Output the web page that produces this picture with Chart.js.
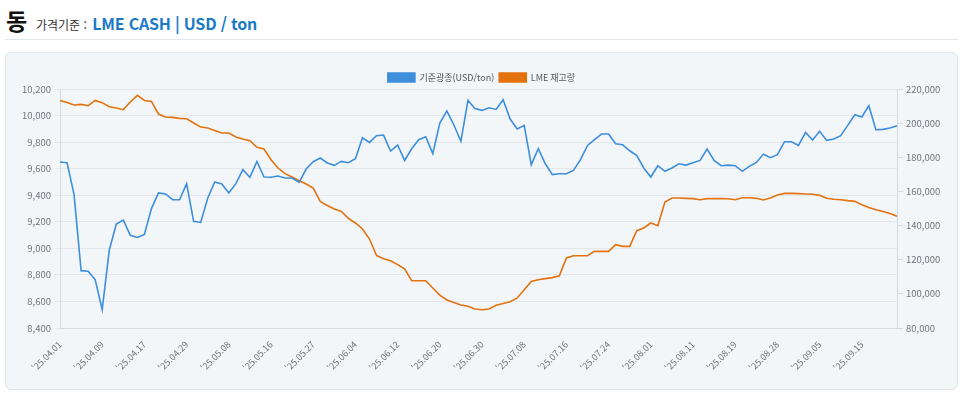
<!DOCTYPE html>
<html lang="ko">
<head>
  <meta charset="UTF-8" />
  <title>동 LME CASH</title>
  <script src="https://cdn.jsdelivr.net/npm/chart.js"></script>
  <style>
    body {
      margin: 0;
      background: #fff;
      font-family: 'Noto Sans CJK KR', 'Noto Sans', sans-serif;
      width: 960px;
      height: 393px;
      overflow: hidden;
      position: relative;
    }
    .head {
      position: absolute;
      left: 5px;
      top: 0;
      width: 953px;
      height: 39px;
      border-bottom: 1px solid #e2e5e9;
    }
    .head .metal {
      position: absolute;
      left: 1px;
      top: 3px;
      font-size: 23px;
      font-weight: bold;
      color: #111;
    }
    .head .basis {
      position: absolute;
      left: 31px;
      top: 11px;
      font-size: 12px;
      color: #333;
    }
    .head .basis b {
      color: #1a7ac8;
      font-size: 16px;
      margin-left: 2px;
      letter-spacing: -0.2px;
    }
    .box {
      position: absolute;
      left: 5px;
      top: 52px;
      width: 951px;
      height: 336px;
      border: 1px solid #dfe4ea;
      border-radius: 6px;
      background: #f3f6f9;
    }
  </style>
</head>
<body>

  <div class="head">
    <span class="metal">동</span>
    <span class="basis">가격기준 : <b>LME CASH | USD / ton</b></span>
  </div>

  <div class="box">
    <canvas id="lmeChart"></canvas>
  </div>

<script>
  const dates = [
    "'25.04.01","'25.04.02","'25.04.03","'25.04.04","'25.04.07","'25.04.08","'25.04.09","'25.04.10","'25.04.11","'25.04.14",
    "'25.04.15","'25.04.16","'25.04.17","'25.04.22","'25.04.23","'25.04.24","'25.04.25","'25.04.28","'25.04.29","'25.04.30",
    "'25.05.01","'25.05.02","'25.05.06","'25.05.07","'25.05.08","'25.05.09","'25.05.12","'25.05.13","'25.05.14","'25.05.15",
    "'25.05.16","'25.05.19","'25.05.20","'25.05.21","'25.05.22","'25.05.23","'25.05.27","'25.05.28","'25.05.29","'25.05.30",
    "'25.06.02","'25.06.03","'25.06.04","'25.06.05","'25.06.06","'25.06.09","'25.06.10","'25.06.11","'25.06.12","'25.06.13",
    "'25.06.16","'25.06.17","'25.06.18","'25.06.19","'25.06.20","'25.06.23","'25.06.24","'25.06.25","'25.06.26","'25.06.27",
    "'25.06.30","'25.07.01","'25.07.02","'25.07.03","'25.07.04","'25.07.07","'25.07.08","'25.07.09","'25.07.10","'25.07.11",
    "'25.07.14","'25.07.15","'25.07.16","'25.07.17","'25.07.18","'25.07.21","'25.07.22","'25.07.23","'25.07.24","'25.07.25",
    "'25.07.28","'25.07.29","'25.07.30","'25.07.31","'25.08.01","'25.08.04","'25.08.05","'25.08.06","'25.08.07","'25.08.08",
    "'25.08.11","'25.08.12","'25.08.13","'25.08.14","'25.08.15","'25.08.18","'25.08.19","'25.08.20","'25.08.21","'25.08.22",
    "'25.08.26","'25.08.27","'25.08.28","'25.08.29","'25.09.01","'25.09.02","'25.09.03","'25.09.04","'25.09.05","'25.09.08",
    "'25.09.09","'25.09.10","'25.09.11","'25.09.12","'25.09.15","'25.09.16","'25.09.17","'25.09.18","'25.09.19","'25.09.22"
  ];

  // 기준광종 가격 (USD/ton)
  const cashPrice = [
    9650,9645,9404,8832,8828,8764,8538,8985,9183,9213,
    9098,9082,9105,9299,9417,9410,9366,9366,9487,9203,
    9195,9377,9500,9485,9417,9487,9592,9535,9655,9537,
    9535,9545,9530,9530,9497,9597,9652,9680,9643,9625,
    9655,9645,9675,9833,9798,9848,9853,9733,9778,9662,
    9750,9818,9840,9713,9944,10034,9929,9806,10114,10052,
    10039,10059,10046,10119,9974,9899,9926,9630,9750,9637,
    9555,9562,9562,9587,9668,9775,9818,9861,9861,9788,
    9780,9735,9698,9605,9537,9622,9580,9605,9637,9627,
    9645,9662,9748,9662,9622,9627,9622,9580,9617,9647,
    9708,9683,9705,9803,9803,9775,9873,9816,9881,9813,
    9823,9848,9926,10006,9989,10074,9893,9896,9906,9924
  ];

  // LME 재고량 (ton)
  const stock = [
    213300,212150,210600,211000,210200,213300,212000,209600,208900,207900,
    212400,216300,213300,212700,205350,203600,203400,202800,202600,200100,
    197700,197150,195750,194200,194200,191900,190700,189700,185800,184850,
    178600,173700,170400,168450,166300,164350,162000,154150,151800,149700,
    148300,144200,141500,138000,132100,122500,120600,119400,117100,114600,
    107700,107700,107700,103400,99300,96400,95000,93500,92700,91100,
    90700,91100,93300,94300,95400,97600,102400,107300,108300,108900,
    109500,110600,121000,122350,122350,122350,124900,124900,124900,128800,
    127800,127800,137000,138600,141500,139900,153800,156150,156150,155950,
    155800,155150,155800,155800,155800,155700,155150,156300,156300,155950,
    155000,156150,157900,158850,158850,158700,158500,158350,157700,155950,
    155400,155150,154600,154200,152200,150650,149300,148300,147100,145400
  ];

  const labelStep = 6;
  const tickColor = "#70757b";
  const gridColor = "#e3e7eb";
  const borderColor = "#d5dae0";

  // pull the plot a little closer to the legend
  const legendGap = {
    id: "legendGap",
    beforeInit(chart) {
      const fit = chart.legend.fit;
      chart.legend.fit = function () {
        fit.call(this);
        this.height -= 3;
      };
    }
  };

  new Chart(document.getElementById("lmeChart"), {
    type: "line",
    data: {
      labels: dates,
      datasets: [{
        label: "기준광종(USD/ton)",
        data: cashPrice,
        borderColor: "#3d8fdc",
        backgroundColor: "#3d8fdc",
        borderWidth: 1.6,
        pointRadius: 0,
        tension: 0,
        yAxisID: "y"
      }, {
        label: "LME 재고량",
        data: stock,
        borderColor: "#e3720f",
        backgroundColor: "#e3720f",
        borderWidth: 1.6,
        pointRadius: 0,
        tension: 0,
        yAxisID: "y2"
      }]
    },
    options: {
      responsive: true,
      maintainAspectRatio: false,
      animation: false,
      layout: { padding: { top: 15, left: 0, right: 0, bottom: 0 } },
      font: { family: "'Noto Sans CJK KR', 'Noto Sans', sans-serif" },
      plugins: {
        legend: {
          position: "top",
          labels: {
            boxWidth: 27,
            boxHeight: 9,
            padding: 5,
            color: "#555",
            font: { size: 9, family: "'Noto Sans CJK KR', sans-serif" }
          }
        },
        tooltip: { enabled: false }
      },
      scales: {
        x: {
          grid: { display: false },
          border: { display: true, color: borderColor },
          afterFit: s => { s.height = 61; },
          ticks: {
            autoSkip: false,
            minRotation: 45,
            maxRotation: 45,
            color: tickColor,
            font: { size: 9 },
            callback: (v, i) => i % labelStep === 0 ? dates[i] : null
          }
        },
        y: {
          position: "left",
          min: 8400,
          max: 10200,
          afterFit: s => { s.width = 54; },
          grid: { color: gridColor, tickLength: 6 },
          border: { color: borderColor },
          ticks: {
            stepSize: 200,
            color: tickColor,
            font: { size: 9.5 },
            callback: v => v.toLocaleString("en-US")
          }
        },
        y2: {
          position: "right",
          min: 80000,
          max: 220000,
          afterFit: s => { s.width = 60; },
          grid: { drawOnChartArea: false, color: borderColor, tickLength: 6 },
          border: { color: borderColor },
          ticks: {
            stepSize: 20000,
            color: tickColor,
            font: { size: 9.5 },
            callback: v => v.toLocaleString("en-US")
          }
        }
      }
    },
    plugins: [legendGap]
  });
</script>

</body>
</html>
